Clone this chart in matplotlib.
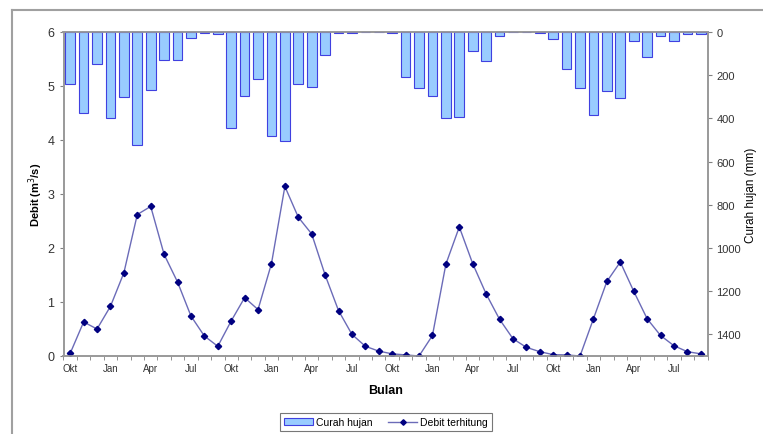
import matplotlib
matplotlib.use('Agg')
import matplotlib.pyplot as plt
from matplotlib.lines import Line2D
from matplotlib.patches import Patch

plt.rcParams['font.family'] = ['Liberation Sans', 'DejaVu Sans']

months = ['Okt', 'Nov', 'Des', 'Jan', 'Feb', 'Mar', 'Apr', 'Mei', 'Jun', 'Jul', 'Agu', 'Sep'] * 4
tick_names = ['Okt', 'Jan', 'Apr', 'Jul']

debit = [0.05, 0.63, 0.50, 0.92, 1.54, 2.62, 2.77, 1.88, 1.37, 0.74, 0.37, 0.18,
         0.65, 1.08, 0.86, 1.71, 3.14, 2.57, 2.26, 1.50, 0.84, 0.40, 0.18, 0.09,
         0.04, 0.02, 0.00, 0.38, 1.70, 2.39, 1.71, 1.15, 0.68, 0.32, 0.16, 0.08,
         0.025, 0.02, 0.00, 0.69, 1.38, 1.74, 1.20, 0.69, 0.38, 0.19, 0.08, 0.04]

curah = [241, 373, 148, 397, 301, 522, 270, 131, 128, 28, 5, 9,
         443, 295, 219, 483, 503, 241, 253, 108, 5, 5, 0, 0,
         5, 208, 260, 296, 398, 394, 88, 136, 20, 0, 0, 3,
         33, 172, 257, 386, 271, 305, 40, 118, 20, 40, 8, 8]

W, H = 763, 435
fig = plt.figure(figsize=(W / 100, H / 100), dpi=100)
fig.patch.set_facecolor('white')

# outer chart frame (top and left visible)
fig.add_artist(Line2D([12 / W, 1.0], [1 - 10.5 / H, 1 - 10.5 / H], color='#a0a0a0', lw=1.5))
fig.add_artist(Line2D([12 / W, 12 / W], [0, 1 - 10.5 / H], color='#a0a0a0', lw=1.5))

ax1 = fig.add_axes([63.5 / W, 1 - 357 / H, 644 / W, 324 / H])
ax2 = ax1.twinx()

x = list(range(len(debit)))

ax2.bar(x, curah, width=0.72, color='#99CCFF', edgecolor='#4040E0', lw=0.8, zorder=2)
ax2.set_ylim(1500, 0)
ax2.set_yticks(range(0, 1401, 200))

ax1.plot(x, debit, color='#6B6BB8', lw=1.0, marker='D', markersize=3.2,
         markerfacecolor='#000080', markeredgecolor='#000080', zorder=3)
ax1.set_ylim(0, 6)
ax1.set_yticks(range(0, 7))
ax1.set_xlim(-0.5, len(debit) - 0.5)

label_pos = [i for i, m in enumerate(months) if m in tick_names]
ax1.set_xticks(label_pos)
ax1.set_xticklabels([months[i] for i in label_pos], fontsize=7, color='#333333')
ax1.set_xticks([i - 0.5 for i in range(len(debit) + 1)], minor=True)
ax1.tick_params(axis='x', which='major', length=0, pad=5)
ax1.tick_params(axis='x', which='minor', length=3, color='#808080', direction='out')
ax1.tick_params(axis='y', labelsize=9, color='#808080', length=3, labelcolor='#333333')
ax2.tick_params(axis='y', labelsize=8, color='#808080', length=3, labelcolor='#333333')

for ax in (ax1, ax2):
    for s in ax.spines.values():
        s.set_color('#999999')
        s.set_linewidth(1.2)

ax1.set_ylabel('Debit (m$^3$/s)', fontsize=8, fontweight='bold', labelpad=2)
ax2.set_ylabel('Curah hujan (mm)', fontsize=8.5, labelpad=3)
ax1.set_xlabel('Bulan', fontsize=9, fontweight='bold', labelpad=8)

handles = [Patch(facecolor='#99CCFF', edgecolor='#4040E0', lw=0.8),
           Line2D([], [], color='#6B6BB8', lw=1.0, marker='D', markersize=2.8,
                  markerfacecolor='#000080', markeredgecolor='#000080')]
leg = fig.legend(handles, ['Curah hujan', 'Debit terhitung'], loc='center',
                 bbox_to_anchor=(386 / W, 1 - 423 / H), ncol=2, fontsize=7.5,
                 frameon=True, fancybox=False, edgecolor='#555555',
                 handlelength=2.8, handleheight=0.6, columnspacing=1.5,
                 borderpad=0.35, handletextpad=0.3)
leg.get_frame().set_linewidth(0.8)

fig.savefig('out.png', dpi=100, facecolor='white')
